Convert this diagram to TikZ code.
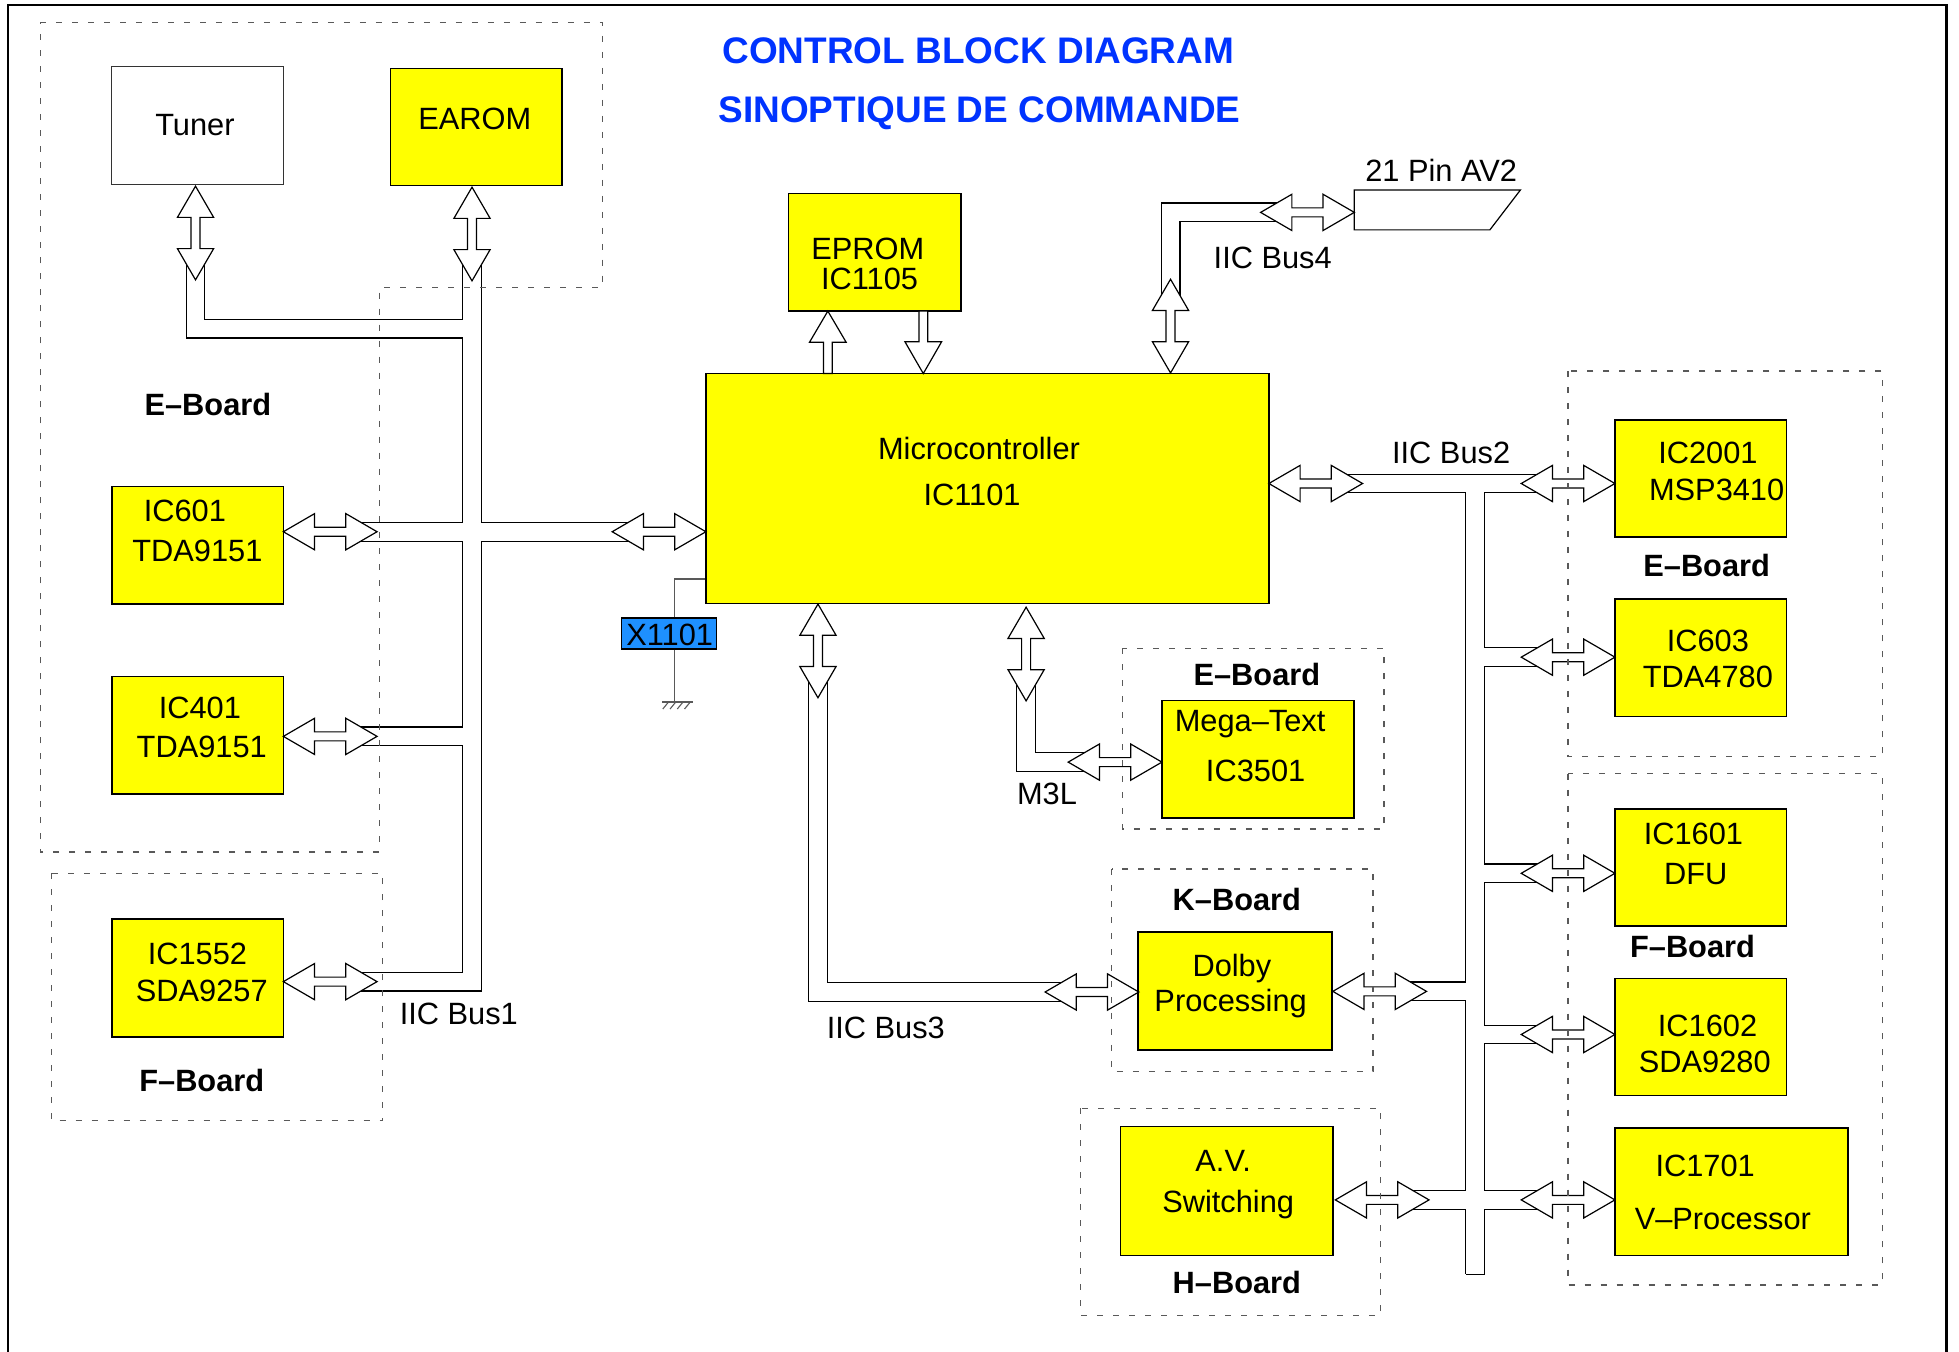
\documentclass[tikz,border=0pt]{standalone}
\usepackage{fontspec}
\setmainfont{Liberation Sans}
\usetikzlibrary{calc,fit}
\definecolor{chipyellow}{RGB}{255,255,0}
\definecolor{titleblue}{RGB}{0,51,255}
\definecolor{xtalblue}{RGB}{30,144,255}
\tikzset{
  dblarrow/.pic={\draw[line width=0.6pt,fill=white,line join=miter] (-37.5,0) -- (-12.5,14.5) -- (-12.5,3.6) -- (12.5,3.6) -- (12.5,14.5) -- (37.5,0) -- (12.5,-14.5) -- (12.5,-3.6) -- (-12.5,-3.6) -- (-12.5,-14.5) -- cycle;},
  chip/.style={draw=black,line width=0.75pt,fill=chipyellow,inner sep=0pt},
  plainbox/.style={draw=black!80,line width=0.75pt,fill=white,inner sep=0pt},
  xtal/.style={draw=black,line width=0.6pt,fill=xtalblue,inner sep=0pt},
  txt/.style={inner sep=0pt,text height=10.9pt,text depth=0pt},
  boardlbl/.style={txt,font=\fontsize{15.4pt}{18pt}\selectfont\bfseries},
  titletxt/.style={inner sep=0pt,text height=13.1pt,text depth=0pt,text=titleblue,font=\fontsize{18.5pt}{22pt}\selectfont\bfseries},
  boardline/.style={draw=black!65,line width=0.6pt,dash pattern=on 3pt off 5pt},
  busouter/.style={line width=9.975pt,draw=black,line join=miter,line cap=butt},
  businner/.style={line width=8.775pt,draw=white,line join=miter,line cap=butt},
  singlearrow/.style={draw=black,line width=0.6pt,fill=white,line join=miter},
  wire/.style={draw=black!65,line width=0.7pt},
}
\begin{document}
\begin{tikzpicture}[x=0.625pt,y=-0.625pt,font=\fontsize{15.4pt}{18pt}\selectfont]
\useasboundingbox (0,0) rectangle (1568,1081.4);
\draw[line width=1.1pt] (6.4,1120) -- (6.4,4) -- (1558,4) -- (1558,1120);

% ---------------- titles
\node[titletxt] (title1) at (783,40) {CONTROL BLOCK DIAGRAM};
\node[titletxt] (title2) at (784,87.5) {SINOPTIQUE DE COMMANDE};

% ---------------- boxes
\node[plainbox,fit={(89.3,53.3) (226.8,147.5)}] (tuner) {};
\node[chip,fit={(312.5,54.7) (450,148.5)}] (earom) {};
\node[chip,fit={(631,155) (769,249)}] (eprom) {};
\node[chip,fit={(565,299) (1015.6,483)}] (micro) {};
\node[chip,fit={(89.5,389.5) (227,483.5)}] (ic601) {};
\node[chip,fit={(89.5,541.6) (227,635.4)}] (ic401) {};
\node[chip,fit={(89.5,735.5) (227,830)}] (ic1552) {};
\node[xtal,fit={(497.3,494.7) (573.3,519.5)}] (x1101) {};
\node[chip,fit={(930,560.8) (1083.6,654.9)}] (mega) {};
\node[chip,fit={(911,746) (1066,840.5)}] (dolby) {};
\node[chip,fit={(897,901.6) (1067,1005)}] (avsw) {};
\node[chip,fit={(1292.6,336) (1430,430)}] (ic2001) {};
\node[chip,fit={(1292.6,479.5) (1430,573.6)}] (ic603) {};
\node[chip,fit={(1292.6,647.5) (1430,741.3)}] (ic1601) {};
\node[chip,fit={(1292.6,783) (1430,877)}] (ic1602) {};
\node[chip,fit={(1292.6,903) (1479,1005)}] (ic1701) {};
\draw[line width=0.6pt] (1084,152) -- (1217,152) -- (1192.5,184) -- (1084,184) -- cycle;
\coordinate (av2) at (1084,170);

% ---------------- arrow centres
\coordinate (aTuner) at (156.5,186.5);
\coordinate (aEarom) at (377.8,187.3);
\coordinate (a601) at (264.3,425.6);
\coordinate (a401) at (264.3,589.4);
\coordinate (a1552) at (264.3,785.7);
\coordinate (aMicroL) at (527.5,425.6);
\coordinate (aBus3) at (654.7,521);
\coordinate (aM3L) at (821.3,523.5);
\coordinate (aMega) at (892.5,610);
\coordinate (aDolbyL) at (874,794);
\coordinate (aDolbyR) at (1104.3,793.5);
\coordinate (aAV) at (1106.3,960.4);
\coordinate (aBus4) at (936.9,261);
\coordinate (aAV2) at (1046.5,170);
\coordinate (aMicroR) at (1053.1,387);
\coordinate (a2001) at (1255.1,387);
\coordinate (a603) at (1255.1,526);
\coordinate (a1601) at (1255.1,699);
\coordinate (a1602) at (1255.1,828);
\coordinate (a1701) at (1255.1,960.4);
\coordinate (jTun) at (377.8,263);
\coordinate (b2top) at (1180.8,387);
\coordinate (b2bot) at (1180.8,1020);

% ---------------- bus bands (outline pass, then white pass)
\foreach \s in {busouter,businner}{
  \draw[\s] ($(aEarom)+(0,15)$) |- ($(a1552)+(15,0)$)
    ($(aTuner)+(0,15)$) |- (jTun)
    ($(a601)+(15,0)$) -- ($(aMicroL)-(15,0)$)
    ($(a401)+(15,0)$) -- (aEarom |- a401)
    ($(aBus3)+(0,15)$) |- ($(aDolbyL)-(15,0)$)
    ($(aM3L)+(0,15)$) |- ($(aMega)-(15,0)$)
    ($(aBus4)-(0,15)$) |- ($(aAV2)-(15,0)$)
    ($(aMicroR)+(15,0)$) -- ($(a2001)-(15,0)$)
    (b2top) -- (b2bot)
    (b2top |- a603) -- ($(a603)-(15,0)$)
    (b2top |- a1601) -- ($(a1601)-(15,0)$)
    (b2top |- a1602) -- ($(a1602)-(15,0)$)
    ($(aDolbyR)+(15,0)$) -- (b2top |- aDolbyR)
    ($(aAV)+(15,0)$) -- ($(a1701)-(15,0)$);
}
\draw[line width=0.6pt] ($(b2bot)-(7.5,0)$) -- ($(b2bot)+(7.5,0)$);

% ---------------- double arrows
\foreach \c in {aTuner,aEarom,aBus3,aM3L,aBus4}
  \pic[rotate=90] at (\c) {dblarrow};
\foreach \c in {a601,a401,a1552,aMicroL,aMega,aDolbyL,aDolbyR,aAV,aAV2,aMicroR,a2001,a603,a1601,a1602,a1701}
  \pic at (\c) {dblarrow};

% ---------------- EPROM <-> micro single arrows
\draw[singlearrow] (662.6,249) -- (677.3,274) -- (666.1,274) -- (666.1,299) -- (659.1,299) -- (659.1,274) -- (647.9,274) -- cycle;
\draw[singlearrow] (735.5,249) -- (742.5,249) -- (742.5,273.5) -- (753.7,273.5) -- (739,299) -- (724.3,273.5) -- (735.5,273.5) -- cycle;

% ---------------- crystal and ground
\coordinate (xw) at (540,463.5);
\draw[wire] (micro.west |- xw) -- (xw) -- (xw |- x1101.north);
\draw[wire] (xw |- x1101.south) -- (540,562) coordinate (gnd);
\draw[wire] (530,562) -- (554.7,562);
\foreach \h in {535,540.8,546.6,552.4}
  \draw[wire,line width=0.55pt] (\h,562) -- ++(-4.5,5.5);

% ---------------- board outlines
\draw[boardline] (32.1,17.9) -- (482.1,17.9) -- (482.1,229.9) -- (303.6,229.9) -- (303.6,682) -- (32.1,682) -- cycle;
\draw[boardline] (41,699) rectangle (306.4,897);
\draw[boardline] (898.6,519) rectangle (1107.7,663.6);
\draw[boardline] (889.7,695.6) rectangle (1099,857.7);
\draw[boardline] (865,887) rectangle (1105,1053);
\draw[boardline] (1255,297) rectangle (1507,605.6);
\draw[boardline] (1255,619.4) rectangle (1507,1028.5);

% ---------------- texts
\node[txt] (tTuner) at (156,100) {Tuner};
\node[txt] (tEarom) at (380,95.3) {EAROM};
\node[txt] (tEprom1) at (694.6,199) {EPROM};
\node[txt] (tEprom2) at (696,223) {IC1105};
\node[txt] (tMicro1) at (783.6,358.7) {Microcontroller};
\node[txt] (tMicro2) at (778,396) {IC1101};
\node[txt] (tAV2) at (1153.5,136.7) {21 Pin AV2};
\node[txt] (tBus4) at (1018.7,206) {IIC Bus4};
\node[txt] (tBus2) at (1161.5,362) {IIC Bus2};
\node[txt] (t601a) at (148,409) {IC601};
\node[txt] (t601b) at (158,441) {TDA9151};
\node[txt] (t401a) at (160,566) {IC401};
\node[txt] (t401b) at (161.5,597.6) {TDA9151};
\node[txt] (t1552a) at (158,763) {IC1552};
\node[txt] (t1552b) at (161.5,793) {SDA9257};
\node[txt,anchor=west] (tBus1) at (319.7,811) {IIC Bus1};
\node[txt] (tX) at (536,508) {X1101};
\node[txt] (tMega1) at (1000.6,576.7) {Mega–Text};
\node[txt] (tMega2) at (1005,616.7) {IC3501};
\node[txt] (tM3L) at (838,635) {M3L};
\node[txt] (tBus3) at (709,822.7) {IIC Bus3};
\node[txt] (tDolby1) at (986,772.5) {Dolby};
\node[txt] (tDolby2) at (985,801) {Processing};
\node[txt] (tAVsw1) at (979,929) {A.V.};
\node[txt] (tAVsw2) at (983,962) {Switching};
\node[txt] (t2001a) at (1367,362) {IC2001};
\node[txt] (t2001b) at (1374,391.7) {MSP3410};
\node[txt] (t603a) at (1367,513) {IC603};
\node[txt] (t603b) at (1367,541.8) {TDA4780};
\node[txt] (t1601a) at (1355.4,667.4) {IC1601};
\node[txt] (t1601b) at (1357.3,699) {DFU};
\node[txt] (t1602a) at (1366.7,820.7) {IC1602};
\node[txt] (t1602b) at (1364.5,850) {SDA9280};
\node[txt] (t1701a) at (1364.8,932.7) {IC1701};
\node[txt] (t1701b) at (1379,975) {V–Processor};

\node[boardlbl] (bE1) at (166.4,324) {E–Board};
\node[boardlbl] (bF1) at (161.5,865) {F–Board};
\node[boardlbl] (bE2) at (1006,540) {E–Board};
\node[boardlbl] (bK) at (990,720) {K–Board};
\node[boardlbl] (bH) at (990,1026.7) {H–Board};
\node[boardlbl] (bE3) at (1366,453) {E–Board};
\node[boardlbl] (bF2) at (1354.7,758) {F–Board};
\end{tikzpicture}
\end{document}
